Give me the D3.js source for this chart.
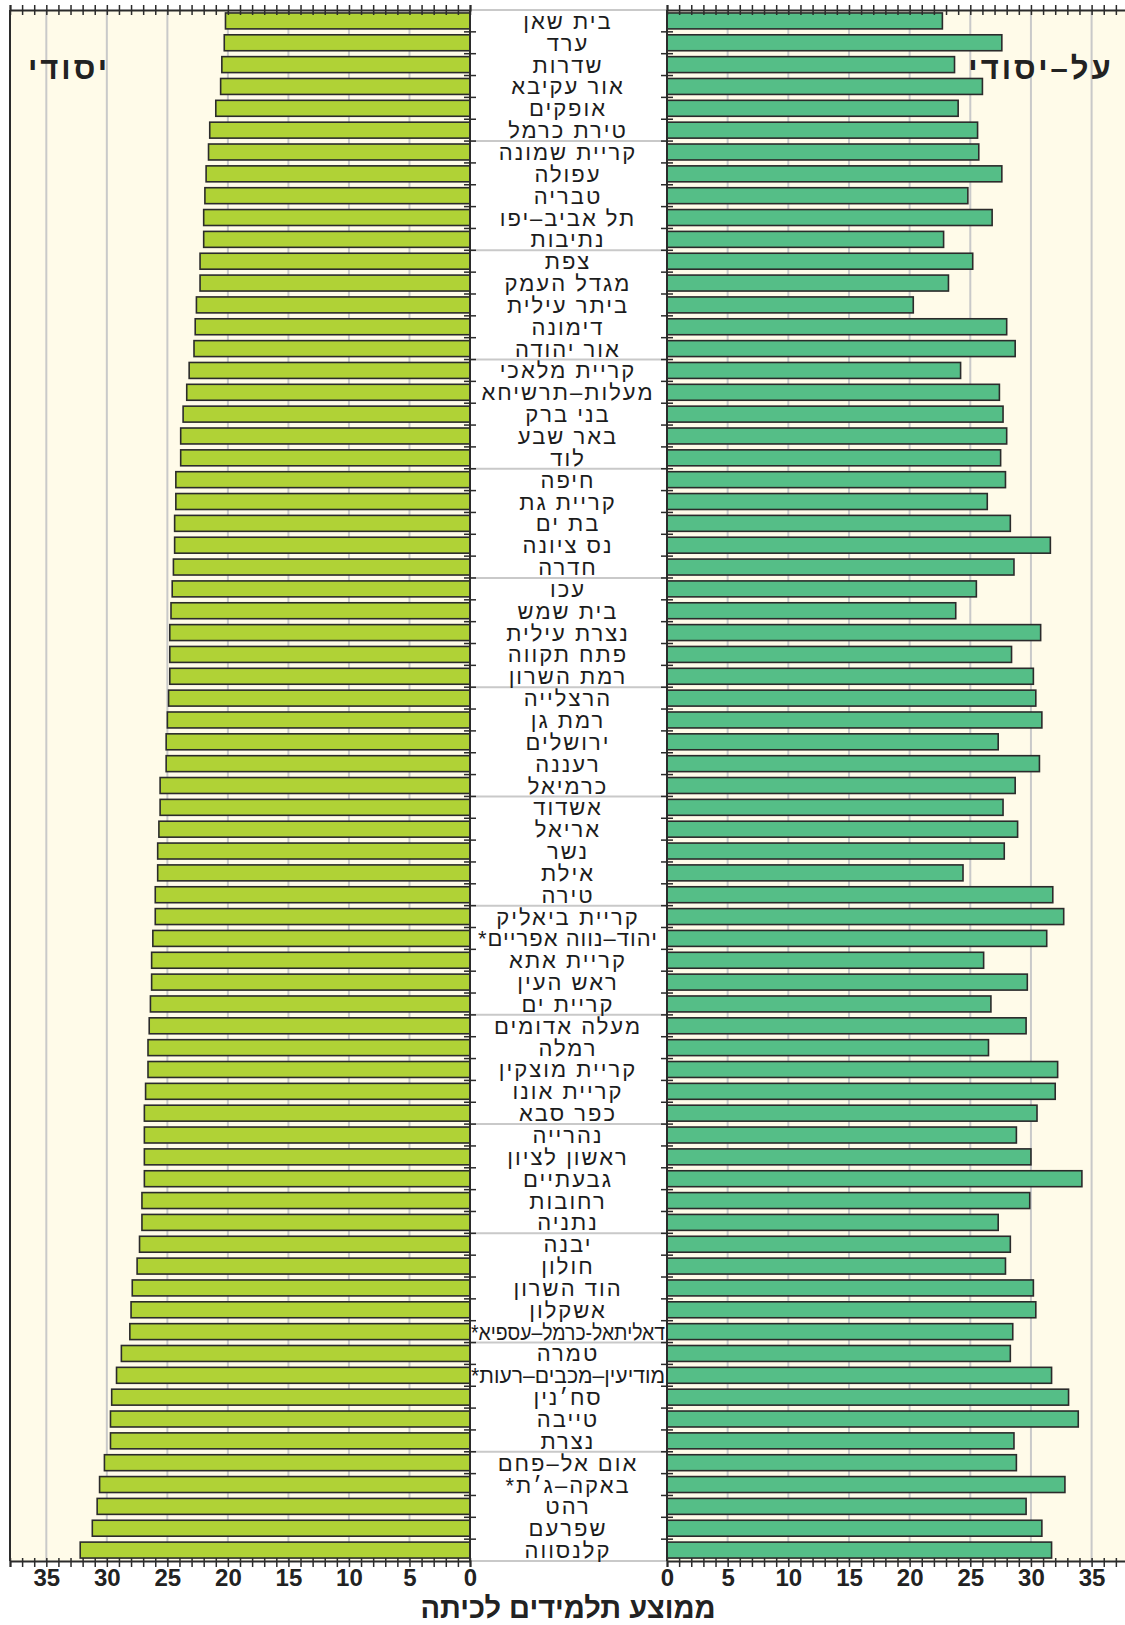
<!DOCTYPE html>
<html lang="he">
<head>
<meta charset="utf-8">
<script src="https://cdn.jsdelivr.net/npm/d3@7"></script>
<style>
    body { margin: 0; background: #ffffff; }
    svg { display: block; }
</style>
</head>
<body>
<div id="chart"></div>
<script>
// average pupils per class, by city (top to bottom)
const cities = [
    'בית שאן', 'ערד', 'שדרות', 'אור עקיבא', 'אופקים', 'טירת כרמל',
    'קריית שמונה', 'עפולה', 'טבריה', 'תל אביב–יפו', 'נתיבות',
    'צפת', 'מגדל העמק', 'ביתר עילית', 'דימונה', 'אור יהודה',
    'קריית מלאכי', 'מעלות–תרשיחא', 'בני ברק', 'באר שבע', 'לוד',
    'חיפה', 'קריית גת', 'בת ים', 'נס ציונה', 'חדרה',
    'עכו', 'בית שמש', 'נצרת עילית', 'פתח תקווה', 'רמת השרון',
    'הרצלייה', 'רמת גן', 'ירושלים', 'רעננה', 'כרמיאל',
    'אשדוד', 'אריאל', 'נשר', 'אילת', 'טירה',
    'קריית ביאליק', 'יהוד–נווה אפריים*', 'קריית אתא', 'ראש העין', 'קריית ים',
    'מעלה אדומים', 'רמלה', 'קריית מוצקין', 'קריית אונו', 'כפר סבא',
    'נהרייה', 'ראשון לציון', 'גבעתיים', 'רחובות', 'נתניה',
    'יבנה', 'חולון', 'הוד השרון', 'אשקלון', 'דאליתאל-כרמל–עספיא*',
    'טמרה', 'מודיעין–מכבים–רעות*', 'סח׳נין', 'טייבה', 'נצרת',
    'אום אל–פחם', 'באקה–ג׳ת*', 'רהט', 'שפרעם', 'קלנסווה'
];

// יסודי (left panel)
const primaryValues = [
    20.2, 20.3, 20.5, 20.6, 21.0, 21.5, 21.6, 21.8, 21.9, 22.0,
    22.0, 22.3, 22.3, 22.6, 22.7, 22.8, 23.2, 23.4, 23.7, 23.9,
    23.9, 24.3, 24.3, 24.4, 24.4, 24.5, 24.6, 24.7, 24.8, 24.8,
    24.8, 24.9, 25.0, 25.1, 25.1, 25.6, 25.6, 25.7, 25.8, 25.8,
    26.0, 26.0, 26.2, 26.3, 26.3, 26.4, 26.5, 26.6, 26.6, 26.8,
    26.9, 26.9, 26.9, 26.9, 27.1, 27.1, 27.3, 27.5, 27.9, 28.0,
    28.1, 28.8, 29.2, 29.6, 29.7, 29.7, 30.2, 30.6, 30.8, 31.2, 32.2
];

// על-יסודי (right panel)
const secondaryValues = [
    22.7, 27.6, 23.7, 26.0, 24.0, 25.6, 25.7, 27.6, 24.8, 26.8,
    22.8, 25.2, 23.2, 20.3, 28.0, 28.7, 24.2, 27.4, 27.7, 28.0,
    27.5, 27.9, 26.4, 28.3, 31.6, 28.6, 25.5, 23.8, 30.8, 28.4,
    30.2, 30.4, 30.9, 27.3, 30.7, 28.7, 27.7, 28.9, 27.8, 24.4,
    31.8, 32.7, 31.3, 26.1, 29.7, 26.7, 29.6, 26.5, 32.2, 32.0,
    30.5, 28.8, 30.0, 34.2, 29.9, 27.3, 28.3, 27.9, 30.2, 30.4,
    28.5, 28.3, 31.7, 33.1, 33.9, 28.6, 28.8, 32.8, 29.6, 30.9, 31.7
];

const tickLabels = [0, 5, 10, 15, 20, 25, 30, 35];
const panelTitles = ['יסודי', 'על–יסודי'];
const axisTitle = 'ממוצע תלמידים לכיתה';

const width = 1125,
    height = 1625,
    plotTop = 10,
    plotBottom = 1561,
    xMax = 38,
    labelMid = 568,
    groupBreaks = [6, 11, 16, 21, 26, 31, 36, 41, 46, 51, 56, 61, 66];

const cream = '#fffbe9',
    gridColor = '#c9c9c9',
    inkColor = '#2b2b2b';

const rows = cities.map((city, i) => ({
    city: city,
    primary: primaryValues[i],
    secondary: secondaryValues[i]
}));

const svg = d3.select('#chart').append('svg')
    .attr('width', width)
    .attr('height', height);

const yScale = d3.scaleBand()
    .domain(cities)
    .range([plotTop, plotBottom])
    .paddingInner(0.27)
    .paddingOuter(0.135);

const rowStep = yScale.step();

function drawPanel(scale, key, fill) {
    const [x0, x1] = scale.range();
    const left = Math.min(x0, x1), right = Math.max(x0, x1);

    const g = svg.append('g').attr('class', 'panel ' + key);

    g.append('rect')
        .attr('x', left)
        .attr('y', plotTop)
        .attr('width', right - left)
        .attr('height', plotBottom - plotTop)
        .attr('fill', cream);

    // vertical grid every 5
    g.append('g')
        .selectAll('line')
        .data(tickLabels.filter(d => d > 0))
        .enter().append('line')
        .attr('x1', d => scale(d))
        .attr('x2', d => scale(d))
        .attr('y1', plotTop)
        .attr('y2', plotBottom)
        .attr('stroke', gridColor)
        .attr('stroke-width', 2);

    g.append('g')
        .selectAll('rect')
        .data(rows)
        .enter().append('rect')
        .attr('x', d => Math.min(scale(0), scale(d[key])))
        .attr('y', d => yScale(d.city))
        .attr('width', d => Math.abs(scale(d[key]) - scale(0)))
        .attr('height', yScale.bandwidth())
        .attr('fill', fill)
        .attr('stroke', inkColor)
        .attr('stroke-width', 1.6);

    // top axis: a tick at every unit
    const topAxis = d3.axisTop(scale)
        .tickValues(d3.range(0, xMax + 1))
        .tickSize(5)
        .tickFormat('');

    const gTop = g.append('g')
        .attr('transform', `translate(0,${plotTop})`)
        .call(topAxis);
    gTop.select('.domain').attr('stroke', inkColor).attr('stroke-width', 2);
    gTop.selectAll('.tick line')
        .attr('y1', -5).attr('y2', 5)
        .attr('stroke', inkColor).attr('stroke-width', 1.5);

    const bottomAxis = d3.axisBottom(scale)
        .tickValues(d3.range(0, xMax + 1))
        .tickSize(6)
        .tickFormat(d => tickLabels.includes(d) ? d : '');

    const gBottom = g.append('g')
        .attr('transform', `translate(0,${plotBottom})`)
        .call(bottomAxis);
    gBottom.select('.domain').attr('stroke', inkColor).attr('stroke-width', 2);
    gBottom.selectAll('.tick line')
        .attr('y1', -3).attr('y2', 6)
        .attr('stroke', inkColor).attr('stroke-width', 1.5);
    gBottom.selectAll('.tick text')
        .attr('y', 25)
        .attr('dy', null)
        .attr('fill', '#222')
        .style('font-family', '"Liberation Sans Narrow", "Liberation Sans", Arial, sans-serif')
        .style('font-size', '24px')
        .style('font-weight', 'bold');

    // zero line with row ticks
    g.append('line')
        .attr('x1', scale(0)).attr('x2', scale(0))
        .attr('y1', plotTop).attr('y2', plotBottom)
        .attr('stroke', inkColor)
        .attr('stroke-width', 2);

    g.append('g')
        .selectAll('line')
        .data(d3.range(1, cities.length))
        .enter().append('line')
        .attr('x1', scale(0) - 6)
        .attr('x2', scale(0) + 6)
        .attr('y1', i => plotTop + i * rowStep)
        .attr('y2', i => plotTop + i * rowStep)
        .attr('stroke', inkColor)
        .attr('stroke-width', 1.5);

    return g;
}

const xLeft = d3.scaleLinear().domain([0, xMax]).range([470, 10]);
const xRight = d3.scaleLinear().domain([0, xMax]).range([667, 1128]);

// label column separators
svg.append('g')
    .selectAll('line')
    .data([0].concat(groupBreaks, [cities.length]))
    .enter().append('line')
    .attr('x1', xLeft(0))
    .attr('x2', xRight(0))
    .attr('y1', i => plotTop + i * rowStep)
    .attr('y2', i => plotTop + i * rowStep)
    .attr('stroke', gridColor)
    .attr('stroke-width', 2);

drawPanel(xLeft, 'primary', '#b0d236');
drawPanel(xRight, 'secondary', '#55be87');

// left border of the chart
svg.append('line')
    .attr('x1', xLeft(xMax)).attr('x2', xLeft(xMax))
    .attr('y1', plotTop).attr('y2', plotBottom)
    .attr('stroke', inkColor)
    .attr('stroke-width', 2);

const maxLabelWidth = 194;

svg.append('g')
    .selectAll('text')
    .data(rows)
    .enter().append('text')
    .attr('x', labelMid)
    .attr('y', d => yScale(d.city) + yScale.bandwidth() / 2 + 8)
    .attr('text-anchor', 'middle')
    .attr('direction', 'rtl')
    .attr('fill', '#1c1c1c')
    .style('font-family', '"Liberation Sans", Arial, sans-serif')
    .style('font-size', '22px')
    .style('letter-spacing', '2px')
    .text(d => d.city)
    .each(function () {
        const label = d3.select(this);
        // tighten long names until they fit the label column
        for (const spacing of [1, 0.5, 0]) {
            if (this.getComputedTextLength() <= maxLabelWidth) break;
            label.style('letter-spacing', spacing + 'px');
        }
        if (this.getComputedTextLength() > maxLabelWidth) {
            label.attr('textLength', maxLabelWidth)
                .attr('lengthAdjust', 'spacingAndGlyphs');
        }
    });

// panel titles
svg.selectAll('.panel-title')
    .data(panelTitles)
    .enter().append('text')
    .attr('class', 'panel-title')
    .attr('x', (d, i) => i === 0 ? 69 : 1041)
    .attr('y', 79)
    .attr('text-anchor', 'middle')
    .attr('direction', 'rtl')
    .attr('fill', '#222')
    .style('font-family', '"Liberation Sans", Arial, sans-serif')
    .style('font-size', '31px')
    .style('font-weight', 'bold')
    .style('letter-spacing', '3px')
    .text(d => d);

svg.append('text')
    .attr('x', labelMid)
    .attr('y', 1618)
    .attr('text-anchor', 'middle')
    .attr('direction', 'rtl')
    .attr('fill', '#222')
    .style('font-family', '"Liberation Sans", Arial, sans-serif')
    .style('font-size', '29px')
    .style('font-weight', 'bold')
    .text(axisTitle);
</script>
</body>
</html>
